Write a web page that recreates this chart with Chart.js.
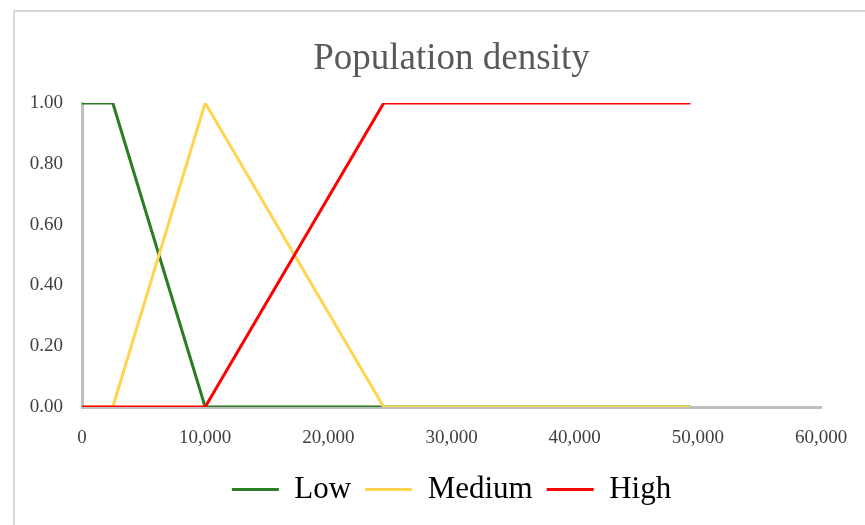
<!DOCTYPE html>
<html>
<head>
<meta charset="utf-8">
<script src="https://cdn.jsdelivr.net/npm/chart.js@4/dist/chart.umd.min.js"></script>
<style>
  html, body { margin: 0; padding: 0; background: #ffffff; overflow: hidden; }
  #wrap { position: relative; width: 865px; height: 525px; overflow: hidden; }
  #frame {
    position: absolute; left: 13px; top: 10px; width: 900px; height: 600px;
    border-top: 2px solid #d9d9d9; border-left: 2px solid #d9d9d9; pointer-events: none;
  }
  canvas { position: absolute; left: 0; top: 0; }
</style>
</head>
<body>
<div id="wrap">
  <div id="frame"></div>
  <canvas id="chart" width="865" height="525"></canvas>
</div>
<script>
// Membership functions for population density (persons per unit area)
const lowX    = [0, 2500, 10000, 49400];
const lowY    = [1, 1, 0, 0];
const mediumX = [0, 2500, 10000, 24500, 49400];
const mediumY = [0, 0, 1, 0, 0];
const highX   = [0, 10000, 24500, 49400];
const highY   = [0, 0, 1, 1];

const seriesNames = ['Low', 'Medium', 'High'];
const seriesColors = ['#2a7d22', '#ffd54f', '#ff0000'];

const xTicks = [0, 10000, 20000, 30000, 40000, 50000, 60000];
const yTicks = [0, 0.2, 0.4, 0.6, 0.8, 1.0];

const toPoints = (xs, ys) => xs.map((x, i) => ({ x: x, y: ys[i] }));

const FONT = '"Liberation Serif", "Times New Roman", serif';

const datasets = [
  [lowX, lowY], [mediumX, mediumY], [highX, highY]
].map(([xs, ys], i) => ({
  label: seriesNames[i],
  data: toPoints(xs, ys),
  borderColor: seriesColors[i],
  backgroundColor: seriesColors[i],
  borderWidth: 3,
  pointRadius: 0,
  tension: 0,
  fill: false,
  order: 3 - i
}));

new Chart(document.getElementById('chart'), {
  type: 'line',
  data: { datasets: datasets },
  options: {
    responsive: false,
    animation: false,
    layout: { padding: { left: 22, right: 44, top: 0, bottom: 10 } },
    plugins: {
      title: {
        display: true,
        fullSize: false,
        text: 'Population density',
        color: '#595959',
        font: { family: FONT, size: 37, weight: 'normal', lineHeight: 1.2 },
        padding: { top: 37, bottom: 21.6 }
      },
      legend: {
        position: 'bottom',
        fullSize: false,
        labels: {
          color: '#000000',
          font: { family: FONT, size: 31 },
          usePointStyle: true,
          pointStyle: 'line',
          pointStyleWidth: 47,
          padding: 14,
          sort: (a, b) => a.datasetIndex - b.datasetIndex
        }
      },
      tooltip: { enabled: false }
    },
    scales: {
      x: {
        type: 'linear',
        min: 0,
        max: 60000,
        afterBuildTicks: (scale) => { scale.ticks = xTicks.map(v => ({ value: v })); },
        afterFit: (scale) => { scale.height = 53; },
        grid: { display: false },
        border: { display: true, color: '#bfbfbf', width: 3 },
        ticks: {
          color: '#404040',
          padding: 12,
          font: { family: FONT, size: 19 },
          maxRotation: 0,
          callback: (v) => v.toLocaleString('en-US')
        }
      },
      y: {
        type: 'linear',
        min: 0,
        max: 1,
        afterBuildTicks: (scale) => { scale.ticks = yTicks.map(v => ({ value: v })); },
        afterFit: (scale) => { scale.width = 60; },
        grid: { display: false },
        border: { display: true, color: '#bfbfbf', width: 3 },
        ticks: {
          color: '#404040',
          padding: 11,
          font: { family: FONT, size: 19 },
          callback: (v) => v.toFixed(2)
        }
      }
    }
  }
});
</script>
</body>
</html>
